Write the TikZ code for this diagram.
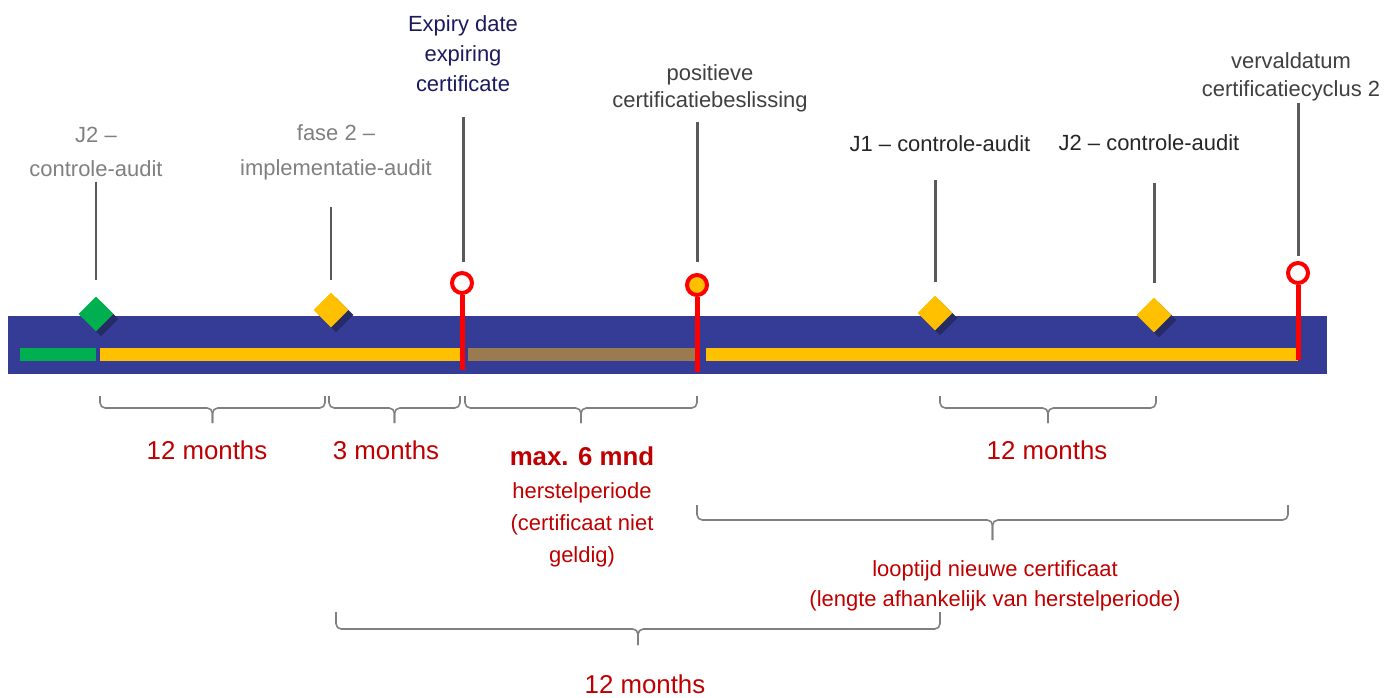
\documentclass[tikz,border=0pt]{standalone}
\usepackage{fontspec}
\setmainfont{Liberation Sans}
\usetikzlibrary{shapes.geometric,shadows,calc}

\definecolor{barblue}{HTML}{343C96}
\definecolor{barshade}{HTML}{262B66}
\definecolor{auditgreen}{HTML}{00B050}
\definecolor{audityellow}{HTML}{FFC000}
\definecolor{gapbrown}{HTML}{9A7B4F}
\definecolor{alertred}{HTML}{FF0000}
\definecolor{notered}{HTML}{C00000}
\definecolor{navytext}{HTML}{1A1A5E}
\definecolor{darktext}{HTML}{404040}
\definecolor{tickgray}{HTML}{5A5A5A}
\definecolor{bracegray}{HTML}{808080}

\begin{document}
\begin{tikzpicture}[x=0.02cm, y=-0.02cm,
    lbl/.style={font=\fontsize{12.5}{19.8}\selectfont, align=center, inner sep=0pt},
    greylbl/.style={lbl, text=gray},
    spanlbl/.style={font=\fontsize{14.7}{17}\selectfont, text=notered, inner sep=0pt},
    notelbl/.style={lbl, text=notered},
    audit/.style={diamond, aspect=1, minimum size=0.7cm, inner sep=0pt, fill=audityellow,
      drop shadow={shadow xshift=0.1cm, shadow yshift=-0.1cm, opacity=1, fill=barshade}},
    deadline/.style={circle, draw=alertred, line width=0.08cm, fill=white, minimum size=0.4cm, inner sep=0pt},
    stem/.style={draw=alertred, line width=0.1cm},
    tick/.style={draw=tickgray, line width=1.7pt},
    bracket/.style={draw=bracegray, line width=0.9pt, rounded corners=3pt},
]
\useasboundingbox (0,0) rectangle (1395,697);

% timeline bar
\fill[barblue] (8,316) rectangle (1327,374);
\fill[auditgreen] (20,348) rectangle (96,361);
\fill[audityellow] (100,348) rectangle (462,361);
\fill[gapbrown] (468,348) rectangle (696,361);
\fill[audityellow] (706,348) rectangle (1298,361);

% labels above
\node[greylbl] (lj2a) at (96,152) {J2 --\\controle-audit};
\node[greylbl] (lfase) at (336,152) {fase 2 --\\implementatie-audit};
\node[lbl, text=navytext, font=\fontsize{12.5}{17}\selectfont] (lexp) at (463,54) {Expiry date\\expiring\\certificate};
\node[lbl, text=darktext, font=\fontsize{12.5}{15.3}\selectfont] (lpos) at (710,88) {positieve\\certificatiebeslissing};
\node[lbl, text=black!85] (lj1) at (940,144) {J1 -- controle-audit};
\node[lbl, text=black!85] (lj2b) at (1149,143) {J2 -- controle-audit};
\node[lbl, text=darktext, font=\fontsize{12.5}{15.8}\selectfont] (lver) at (1291,77) {vervaldatum\\certificatiecyclus 2};

% ticks
\foreach \i/\x/\a/\b in {1/96/182/280, 2/331/207/280, 3/463/117/262, 4/697/122/262,
                         5/935/180/282, 6/1154/183/283, 7/1298/103/256} {
  \coordinate (tt\i) at (\x,\a);
  \coordinate (tb\i) at (\x,\b);
  \draw[tick] (tt\i) -- (tb\i);
}

% audits
\node[audit, fill=auditgreen] (m1) at (96,314) {};
\node[audit] (m2) at (331,310) {};
\node[audit] (m5) at (935,313) {};
\node[audit] (m6) at (1154,315) {};

% deadlines
\node[deadline] (d1) at (462,283) {};
\node[deadline, fill=audityellow] (d2) at (697,285) {};
\node[deadline] (d3) at (1298,273) {};
\coordinate (e1) at (462,370);
\coordinate (e2) at (697,372);
\coordinate (e3) at (1298,360);
\draw[stem] (d1.south) -- (e1);
\draw[stem] (d2.south) -- (e2);
\draw[stem] (d3.south) -- (e3);

% braces
\coordinate (b1l) at (100,396); \coordinate (b1r) at (325,396);
\coordinate (b2l) at (329,396); \coordinate (b2r) at (460,396);
\coordinate (b3l) at (465,396); \coordinate (b3r) at (697,396);
\coordinate (b4l) at (940,396); \coordinate (b4r) at (1156,396);
\coordinate (b5l) at (697,505); \coordinate (b5r) at (1288,505);
\coordinate (b6l) at (336,612); \coordinate (b6r) at (940,612);
\foreach \k/\h/\t in {1/12/15, 2/12/15, 3/12/15, 4/12/15, 5/15/20, 6/17/16} {
  \coordinate (bm\k) at ($(b\k l)!0.5!(b\k r)$);
  \draw[bracket] (b\k l) -- ++(0,\h) -- ($(bm\k)+(0,\h)$) -- ($(bm\k)+(0,\h+\t)$);
  \draw[bracket] (b\k r) -- ++(0,\h) -- ($(bm\k)+(0,\h)$) -- ($(bm\k)+(0,\h+\t)$);
}

% periods
\node[spanlbl] (p1) at (207,450) {12 months};
\node[spanlbl] (p2) at (386,450) {3 months};
\node[spanlbl, font=\fontsize{14.7}{17}\selectfont\bfseries] (p3) at (582,456) {max. 6 mnd};
\node[notelbl, font=\fontsize{12.5}{18.1}\selectfont] (p3n) at (582,525) {herstelperiode\\(certificaat niet\\geldig)};
\node[spanlbl] (p4) at (1047,450) {12 months};
\node[notelbl, font=\fontsize{12.5}{17}\selectfont] (p5) at (995,586) {looptijd nieuwe certificaat\\(lengte afhankelijk van herstelperiode)};
\node[spanlbl] (p6) at (645,684) {12 months};
\end{tikzpicture}
\end{document}
